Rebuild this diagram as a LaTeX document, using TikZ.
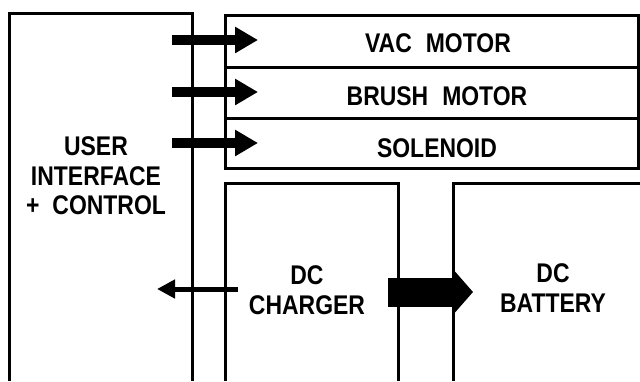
\documentclass[tikz,border=0pt]{standalone}
\usepackage{fontspec}
\newfontfamily\blockfont{Liberation Sans}[FakeStretch=0.85]
\usetikzlibrary{arrows.meta}

\begin{document}
\begin{tikzpicture}[x=1pt, y=-1pt, line width=3pt]
\tikzset{
    every node/.style={align=center, font=\blockfont\bfseries\fontsize{27}{29.5}\selectfont, inner sep=0pt},
    wall/.style={draw, line join=miter},
    feed/.style={line width=10pt, -{Triangle[length=23pt, width=25pt]}},
    sense/.style={line width=5pt, -{Triangle[length=18pt, width=18pt]}},
    power/.style={line width=29pt, -{Triangle[length=18pt, width=40pt]}}
}
\useasboundingbox (0,0) rectangle (640,381);

% blocks (open towards the bottom edge)
\draw[wall] (9,381) -- (9,13) -- (192,13) -- (192,381);
\draw[wall] (225,15) rectangle (638,168);
\draw[wall] (225,67) -- (638,67);
\draw[wall] (225,118) -- (638,118);
\draw[wall] (225,381) -- (225,183) -- (398,183) -- (398,381);
\draw[wall] (453,381) -- (453,183) -- (640,183);

% labels
\node[anchor=base] (vac) at (438,52) {VAC\hspace{14pt}MOTOR};
\node[anchor=base] (brush) at (437,105) {BRUSH\hspace{14pt}MOTOR};
\node[anchor=base] (solenoid) at (437,157) {SOLENOID};
\node (ui) at (96,176) {USER\\INTERFACE\\+\hspace{13pt}CONTROL};
\node (charger) at (307,290) {DC\\CHARGER};
\node (battery) at (553,288) {DC\\BATTERY};

% connectors
\coordinate (vacin) at (172,40);
\coordinate (brushin) at (172,92);
\coordinate (solin) at (172,143);
\coordinate (vactip) at (258,40);
\coordinate (brushtip) at (258,92);
\coordinate (soltip) at (258,143);
\draw[feed] (vacin) -- (vactip);
\draw[feed] (brushin) -- (brushtip);
\draw[feed] (solin) -- (soltip);

\coordinate (chgout) at (238,289);
\coordinate (uitip) at (157,289);
\draw[sense] (chgout) -- (uitip);

\coordinate (chgpwr) at (388,292);
\coordinate (battip) at (473,292);
\draw[power] (chgpwr) -- (battip);
\end{tikzpicture}
\end{document}
